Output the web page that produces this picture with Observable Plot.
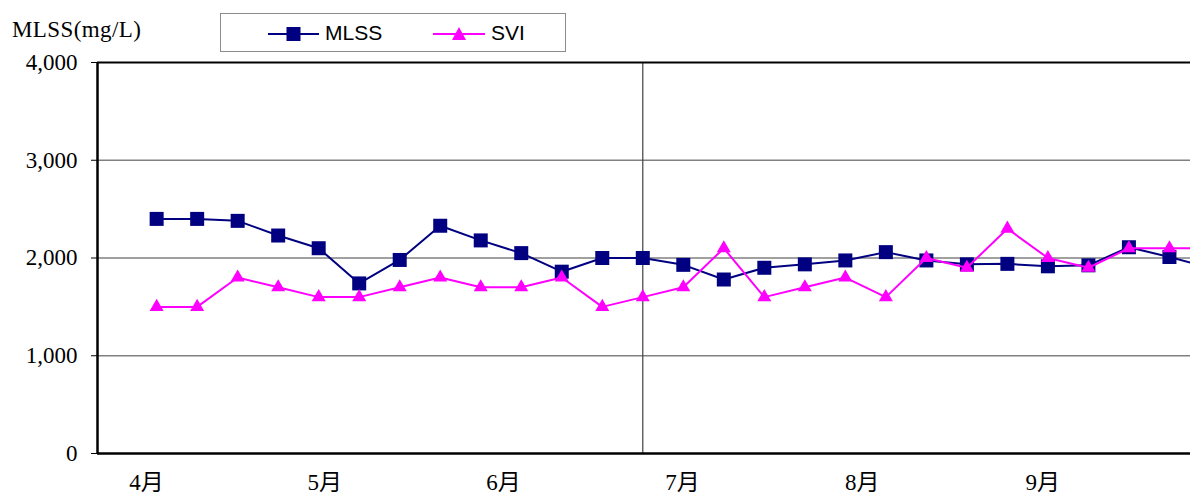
<!DOCTYPE html>
<html>
<head>
<meta charset="utf-8">
<script src="https://cdn.jsdelivr.net/npm/d3@7"></script>
<script src="https://cdn.jsdelivr.net/npm/@observablehq/plot@0.6"></script>
<style>
  html, body { margin: 0; padding: 0; background: #fff; }
  #wrap { width: 1190px; height: 493px; overflow: hidden; position: relative; }
  #header { position: relative; width: 1190px; height: 40px; z-index: 2; }
  #ytitle { position: absolute; left: 12px; top: 17px; font-family: 'Liberation Serif', 'Noto Sans CJK JP', serif; font-size: 23px; letter-spacing: 0.4px; color: #000; white-space: nowrap; }
  #legend { position: absolute; left: 220px; top: 13px; width: 344px; height: 37px; border: 1px solid #8c8c8c; box-sizing: content-box; background: #fff; }
  #legend svg { position: absolute; left: 0; top: 0; }
  .ltext { position: absolute; top: 7px; font-family: 'Liberation Sans', Arial, sans-serif; font-size: 21px; color: #000; }
  #chart svg { display: block; }
</style>
</head>
<body>
<div id="wrap">
  <div id="header">
    <div id="ytitle">MLSS(mg/L)</div>
    <div id="legend">
      <svg width="344" height="37">
        <line x1="47" x2="98" y1="20" y2="20" stroke="#000080" stroke-width="2"/>
        <rect x="65.5" y="13" width="14" height="14" fill="#000080"/>
        <line x1="212" x2="264" y1="20" y2="20" stroke="#FF00FF" stroke-width="2"/>
        <polygon points="238,13 245,26 231,26" fill="#FF00FF"/>
      </svg>
      <span class="ltext" style="left:104px">MLSS</span>
      <span class="ltext" style="left:270px">SVI</span>
    </div>
  </div>
  <div id="chart"></div>
</div>
<script>
// Weekly samples (category index = order of measurement)
const mlss = [2400, 2400, 2380, 2230, 2100, 1740, 1980, 2330, 2180, 2050, 1860, 2000, 2000,
              1930, 1780, 1900, 1935, 1975, 2060, 1975, 1935, 1940, 1915, 1925, 2110, 2010, 1900];
const svi  = [1500, 1500, 1800, 1700, 1600, 1600, 1700, 1800, 1700, 1700, 1800, 1500, 1600,
              1700, 2100, 1600, 1700, 1800, 1600, 2000, 1900, 2300, 2000, 1900, 2100, 2100, 2100];
const monthLabels = ["4月", "5月", "6月", "7月", "8月", "9月"];
const monthPos = [-0.25, 4.15, 8.56, 12.98, 17.42, 21.87]; // in category-index units
const yTicks = [0, 1000, 2000, 3000, 4000];
const gridValues = [1000, 2000, 3000];
const dividerIndex = [12];

const mlssData = mlss.map((v, i) => ({i, v}));
const sviData = svi.map((v, i) => ({i, v}));
const months = monthLabels.map((label, k) => ({pos: monthPos[k], label}));
const xDomain = [-1.46, 25.52];

const chart = Plot.plot({
  width: 1190,
  height: 453,
  marginLeft: 97,
  marginRight: 0,
  marginTop: 22,
  marginBottom: 40,
  style: {fontFamily: "'Liberation Serif', 'Noto Sans CJK JP', serif", fontSize: "23px", color: "#000", background: "transparent", overflow: "hidden"},
  x: {type: "linear", domain: xDomain, axis: null},
  y: {domain: [0, 4000], axis: null},
  marks: [
    Plot.ruleY(gridValues, {stroke: "#808080", strokeWidth: 1.4}),
    Plot.ruleX(dividerIndex, {y1: 0, y2: 4000, stroke: "#404040", strokeWidth: 1.2}),
    Plot.ruleY([4000], {stroke: "#000", strokeWidth: 2}),
    Plot.ruleY([0], {stroke: "#000", strokeWidth: 2.5}),
    Plot.ruleX([xDomain[0]], {y1: 0, y2: 4000, stroke: "#000", strokeWidth: 2.5}),
    Plot.axisY({ticks: yTicks, tickFormat: d3.format(","), tickSize: 6, tickPadding: 14, label: null, fontSize: 23, stroke: "#000"}),
    Plot.text(months, {x: "pos", text: "label", frameAnchor: "bottom", dy: 36, fontSize: 23, fill: "#000"}),
    Plot.line(mlssData, {x: "i", y: "v", stroke: "#000080", strokeWidth: 2, clip: true}),
    Plot.dot(mlssData, {x: "i", y: "v", symbol: "square", r: 7.9, fill: "#000080", stroke: "none", clip: true}),
    Plot.line(sviData, {x: "i", y: "v", stroke: "#FF00FF", strokeWidth: 2, clip: true}),
    Plot.dot(sviData, {x: "i", y: "v", symbol: "triangle", r: 5.2, fill: "#FF00FF", stroke: "none", clip: true})
  ]
});
document.getElementById("chart").appendChild(chart);
</script>
</body>
</html>
